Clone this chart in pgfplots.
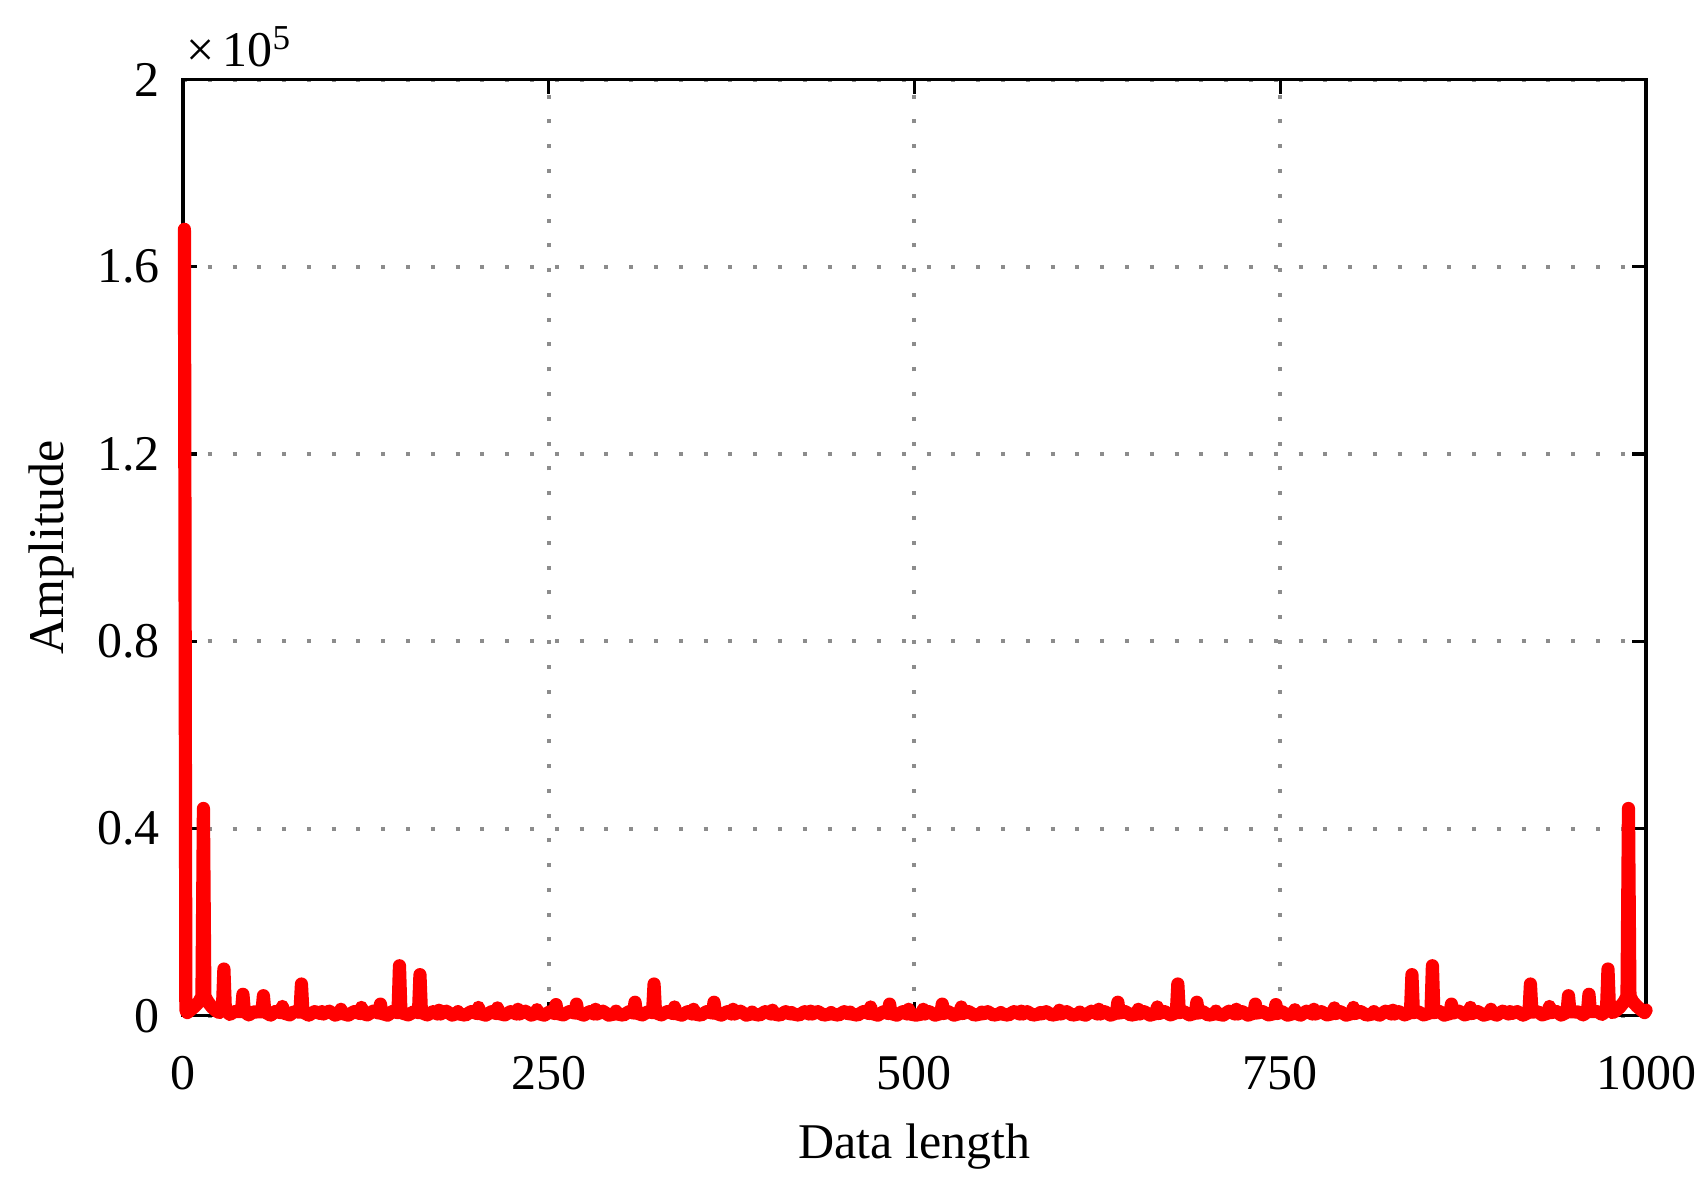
\documentclass[border=0pt]{standalone}
\usepackage{fontspec}
\setmainfont{Liberation Serif}
\usepackage{pgfplots}
\pgfplotsset{compat=1.18}

\begin{document}
\fontsize{12.5}{15}\selectfont
\begin{tikzpicture}
\path[use as bounding box] (-1.608,-1.503) rectangle (13.396,8.929);
\begin{axis}[
    at={(0,0)}, anchor=south west,
    scale only axis,
    width=12.86cm, height=8.23cm,
    xmin=0, xmax=1000, ymin=0, ymax=200000,
    xtick={0,250,500,750,1000},
    ytick={0,40000,80000,120000,160000,200000},
    yticklabels={0,0.4,0.8,1.2,1.6,2},
    scaled y ticks=false,
    /pgf/number format/assume math mode=true,
    /pgf/number format/1000 sep={},
    tick align=inside,
    major tick length=3.5pt,
    tick style={black, line width=0.8pt},
    axis line style={black, line width=0.8pt},
    grid=major,
    major grid style={black!45, line width=1pt, dash pattern=on 1pt off 5.2pt},
    xlabel={Data length},
    ylabel={Amplitude},
    xticklabel style={yshift=-0.2cm},
    yticklabel style={xshift=-0.05cm},
    ylabel style={yshift=-0.1cm},
    clip=false,
]
\addplot[red, line width=3.3pt, line join=round, line cap=round] coordinates {
(1,168000) (2,1200) (3,700) (5,1200) (8,2000) (11,3000) (13,4200) (14,44300) (15,4200)
(17,3000) (20,1800) (23,1000) (25,700) (27,1500) (28,10000) (29,1300) (32,300) (35,900)
(40,900) (41,4600) (42,900) (45,200) (48,800) (54,900) (55,4300) (56,800) (60,150) (63,900)
(67,700) (68,2000) (69,600) (73,200) (76,900) (80,800) (81,6800) (82,800) (86,150) (90,900)
(94,500) (95,900) (96,400) (100,1000) (104,150) (107,500) (108,1400) (109,500) (113,150)
(117,900) (121,500) (122,1800) (123,500) (126,200) (130,1000) (134,600) (135,2500) (136,500)
(140,150) (143,900) (147,700) (148,10700) (149,700) (154,200) (158,900) (161,700) (162,8800)
(163,700) (167,200) (171,900) (174,400) (175,1200) (176,400) (180,1000) (184,150) (187,500)
(188,900) (189,400) (193,150) (197,900) (201,500) (202,1800) (203,500) (207,150) (211,900)
(214,500) (215,1700) (216,500) (220,200) (224,900) (228,400) (229,1400) (230,400) (234,1000)
(238,150) (241,500) (242,1300) (243,500) (247,150) (251,900) (254,500) (255,2400) (256,500)
(260,200) (264,900) (268,600) (269,2500) (270,600) (274,150) (278,900) (281,400) (282,1400)
(283,400) (287,1000) (291,150) (295,400) (296,1000) (297,400) (301,150) (305,900) (308,600)
(309,2900) (310,600) (314,200) (318,900) (321,700) (322,6800) (323,700) (327,200) (331,900)
(335,500) (336,1900) (337,500) (341,150) (345,900) (348,400) (349,1400) (350,400) (354,150)
(358,900) (362,600) (363,2900) (364,600) (368,150) (372,900) (375,400) (376,1400) (377,400)
(381,1000) (385,150) (388,400) (389,800) (390,400) (394,150) (398,900) (402,400) (403,1200)
(404,400) (408,150) (412,900) (415,400) (416,700) (417,400) (421,150) (425,900) (428,400)
(429,1000) (430,400) (434,900) (438,150) (442,400) (443,700) (444,400) (448,150) (452,900)
(455,400) (456,800) (457,400) (461,150) (465,900) (469,500) (470,1900) (471,500) (475,150)
(479,900) (482,500) (483,2500) (484,500) (488,150) (492,900) (495,400) (496,1400) (497,400)
(501,150)
(505,400) (506,1400) (507,400) (510,900) (514,150) (518,500) (519,2500) (520,500) (523,900)
(527,150) (531,500) (532,1900) (533,500) (537,900) (541,150) (545,400) (546,800) (547,400)
(550,900) (554,150) (558,400) (559,700) (560,400) (564,150) (568,900) (572,400) (573,1000)
(574,400) (577,900) (581,150) (585,400) (586,700) (587,400) (590,900) (594,150) (598,400)
(599,1200) (600,400) (604,900) (608,150) (612,400) (613,800) (614,400) (617,150) (621,1000)
(625,400) (626,1400) (627,400) (630,900) (634,150) (638,600) (639,2900) (640,600) (644,900)
(648,150) (652,400) (653,1400) (654,400) (657,900) (661,150) (665,500) (666,1900) (667,500)
(671,900) (675,200) (679,700) (680,6800) (681,700) (684,900) (688,200) (692,600) (693,2900)
(694,600) (697,900) (701,150) (705,400) (706,1000) (707,400) (711,150) (715,1000) (719,400)
(720,1400) (721,400) (724,900) (728,150) (732,600) (733,2500) (734,600) (738,900) (742,200)
(746,500) (747,2400) (748,500) (751,900) (755,150) (759,500) (760,1300) (761,500) (764,150)
(768,1000) (772,400) (773,1400) (774,400) (778,900) (782,200) (786,500) (787,1700) (788,500)
(791,900) (795,150) (799,500) (800,1800) (801,500) (805,900) (809,150) (813,400) (814,900)
(815,500) (818,150) (822,1000) (826,400) (827,1200) (828,400) (831,900) (835,200) (839,700)
(840,8800) (841,700) (844,900) (848,200) (853,700) (854,10700) (855,700) (859,900) (862,150)
(866,500) (867,2500) (868,600) (872,1000) (876,200) (879,500) (880,1800) (881,500) (885,900)
(889,150) (893,500) (894,1400) (895,500) (898,150) (902,1000) (906,400) (907,900) (908,500)
(912,900) (916,150) (920,800) (921,6800) (922,800) (926,900) (929,200) (933,600) (934,2000)
(935,700) (939,900) (942,150) (946,800) (947,4300) (948,900) (954,800) (957,200) (960,900)
(961,4600) (962,900) (967,900) (970,300) (973,1300) (974,10000) (975,1500) (977,700)
(979,1000) (982,1800) (985,3000) (987,4200) (988,44300) (989,4200) (991,3000) (994,2000)
(997,1200) (999,700) (1000,1200)
};
\end{axis}
\node[anchor=south west, inner sep=0pt] at (0.02,8.33) {×\,10\textsuperscript{5}};
\end{tikzpicture}
\end{document}
